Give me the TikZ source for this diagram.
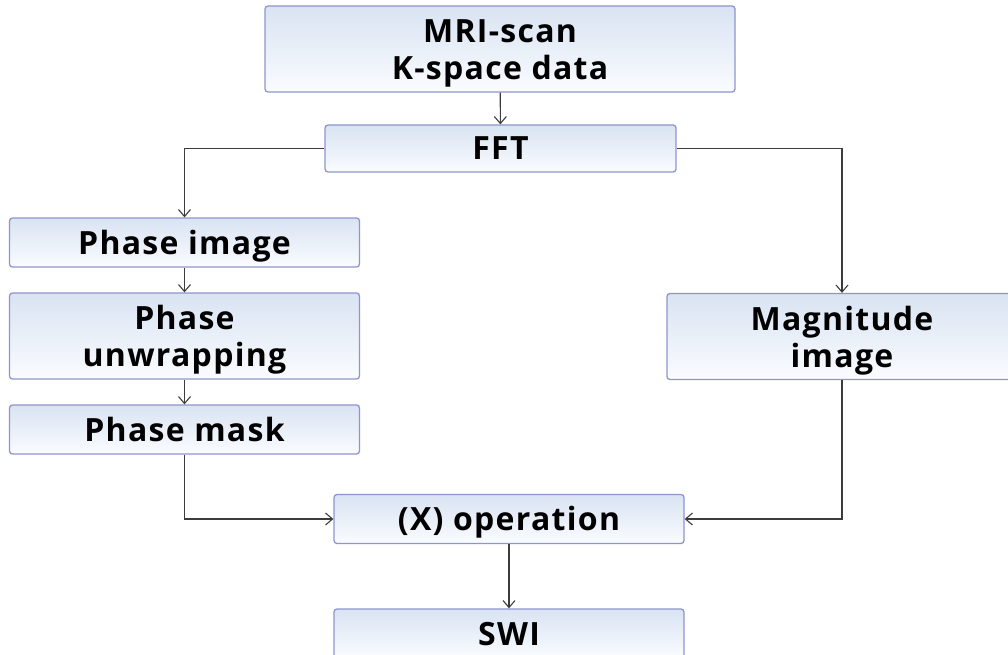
\documentclass[tikz,border=0pt]{standalone}
\usepackage{fontspec}
\setmainfont{Open Sans}[LetterSpace=4]
\usepackage{xcolor}
\usepackage{tikz}
\usetikzlibrary{arrows.meta, calc}

\definecolor{boxline}{HTML}{8E95CC}
\definecolor{boxtop}{HTML}{D9E3F2}
\definecolor{boxbot}{HTML}{FAFCFF}
\definecolor{wire}{HTML}{3C3C3C}

\tikzset{
  stage/.style={draw=boxline, line width=1.3pt, rounded corners=3pt,
    top color=boxtop, bottom color=boxbot, inner sep=0pt, align=center,
    minimum width=350pt, minimum height=49pt,
    text height=23pt, text depth=0pt,
    font=\fontsize{32}{37}\selectfont\bfseries},
  twoline/.style={text height=61pt, minimum height=86pt},
  flow/.style={draw=wire, line width=1.1pt,
    -{Straight Barb[length=7pt,width=12pt]}}
}

\begin{document}
\begin{tikzpicture}[x=1pt,y=-1pt]
  \useasboundingbox (0,0) rectangle (1008,655);
  \clip (0,0) rectangle (1008,655);

  % boxes
  \node[stage, twoline, minimum width=470pt] (scan) at (500,49)
    {MRI-scan\\K-space data};
  \node[stage, minimum width=351pt, minimum height=47pt] (fft) at (500.5,148.5) {FFT};
  \node[stage] (phase) at (184.5,242.5) {Phase image};
  \node[stage, twoline] (unwrap) at (184.5,336) {Phase\\unwrapping};
  \node[stage] (mask) at (184.5,429.5) {Phase mask};
  \node[stage, twoline] (mag) at (842,336.5) {Magnitude\\image};
  \node[stage] (op) at (509,519) {(X) operation};
  \node[stage] (swi) at (509,633.5) {SWI};

  % connectors
  \draw[flow] (scan) -- (fft);
  \draw[flow] (fft.west) -| (phase.north);
  \draw[flow] (fft.east) -| (mag.north);
  \draw[flow] (phase) -- (unwrap);
  \draw[flow] (unwrap) -- (mask);
  \draw[flow] (mask.south) |- (op.west);
  \draw[flow] (mag.south) |- (op.east);
  \draw[flow] (op) -- (swi);
\end{tikzpicture}
\end{document}
